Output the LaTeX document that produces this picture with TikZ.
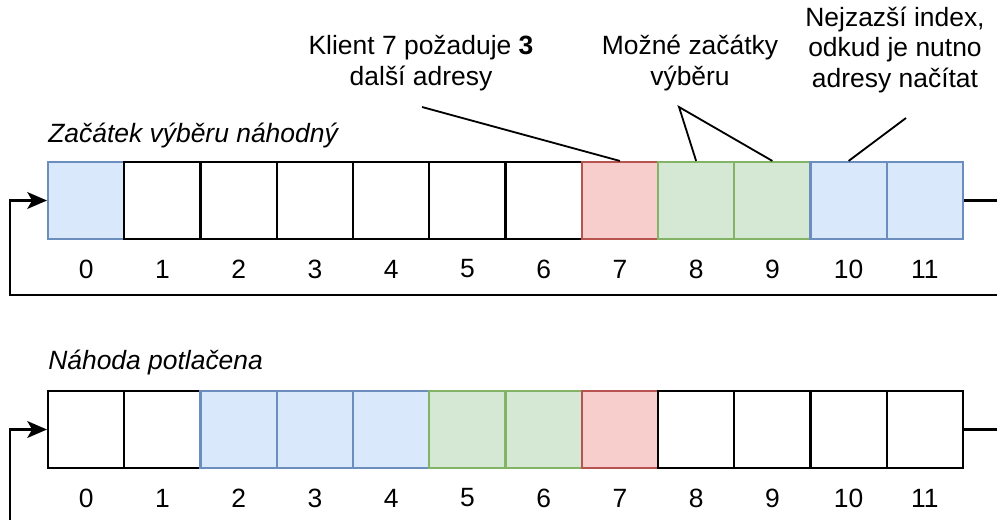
\documentclass[tikz,border=0pt]{standalone}
\usepackage{fontspec}
\setmainfont{Liberation Sans}
\usetikzlibrary{positioning, arrows.meta}
\definecolor{blueFill}{HTML}{DAE8FC}
\definecolor{blueLine}{HTML}{6C8EBF}
\definecolor{greenFill}{HTML}{D5E8D4}
\definecolor{greenLine}{HTML}{82B366}
\definecolor{redFill}{HTML}{F8CECC}
\definecolor{redLine}{HTML}{B85450}

\begin{document}
\begin{tikzpicture}[x=0.025cm, y=-0.025cm,
    font=\fontsize{18.8}{21.6}\selectfont,
    cell/.style={draw, line width=1.5pt, minimum width=1.906cm,
                 minimum height=1.925cm, inner sep=0pt},
    free/.style={cell},
    chosen/.style={cell, draw=blueLine, fill=blueFill},
    start/.style={cell, draw=greenLine, fill=greenFill},
    client/.style={cell, draw=redLine, fill=redFill},
    index/.style={inner sep=0pt},
    title/.style={anchor=west, inner sep=0pt, font=\fontsize{18.8}{21.6}\selectfont\itshape},
    callout/.style={align=center, inner sep=0pt},
    pointer/.style={line width=1.3pt},
    loop/.style={line width=1.5pt},
    loopin/.style={loop, -{Stealth[length=14pt, width=12pt, inset=3.5pt]}}]
    \useasboundingbox (0,0) rectangle (997,520);

    % random start of the selection
    \node[title] (titleA) at (48,136) {Začátek výběru náhodný};
    \foreach \i/\kind in {0/chosen,1/free,2/free,3/free,4/free,5/free,6/free,
                          7/client,8/start,9/start,10/chosen,11/chosen} {
      \node[\kind] (t\i) at ({86.125+76.25*\i},200.5) {};
      \node[index] (tn\i) at ({86.125+76.25*\i},269) {\i};
    }
    \coordinate (tout) at (997,200.5);
    \coordinate (tback) at (997,295);
    \coordinate (tleft) at (10,295);
    \draw[loop] (t11.east) -- (tout);
    \draw[loopin] (tback) -- (tleft) |- (t0.west);

    % callouts above the first row
    \node[callout] (want) at (421,63) {Klient 7 požaduje \textbf{3}\\další adresy};
    \node[callout] (starts) at (690,63) {Možné začátky\\výběru};
    \node[callout] (far) at (895,50) {Nejzazší index,\\odkud je nutno\\adresy načítat};
    \coordinate (wantTip) at (422,107);
    \coordinate (startsTip) at (679,107);
    \coordinate (farTip) at (906,118);
    \draw[pointer] (wantTip) -- (t7.north);
    \draw[pointer] (t8.north) -- (startsTip) -- (t9.north);
    \draw[pointer] (farTip) -- (t10.north);

    % selection with the randomness turned off
    \node[title] (titleB) at (48,363) {Náhoda potlačena};
    \foreach \i/\kind in {0/free,1/free,2/chosen,3/chosen,4/chosen,5/start,6/start,
                          7/client,8/free,9/free,10/free,11/free} {
      \node[\kind] (b\i) at ({86.125+76.25*\i},429.5) {};
      \node[index] (bn\i) at ({86.125+76.25*\i},498) {\i};
    }
    \coordinate (bout) at (997,429.5);
    \coordinate (bback) at (10,520);
    \draw[loop] (b11.east) -- (bout);
    \draw[loopin] (bback) |- (b0.west);
\end{tikzpicture}
\end{document}
